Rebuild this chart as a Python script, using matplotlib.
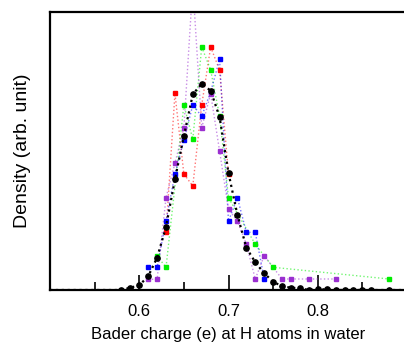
import numpy as np
import matplotlib.pyplot as plt

plt.rcParams['font.family'] = ['Liberation Sans', 'DejaVu Sans']

# Bader charge histograms (arbitrary units)
black_x = [0.50, 0.51, 0.52, 0.53, 0.54, 0.55, 0.56, 0.57, 0.58, 0.59, 0.60,
           0.61, 0.62, 0.63, 0.64, 0.65, 0.66, 0.67, 0.68, 0.69, 0.70, 0.71,
           0.72, 0.73, 0.74, 0.75, 0.76, 0.77, 0.78, 0.79, 0.80, 0.81, 0.82,
           0.83, 0.84, 0.85, 0.86, 0.88, 0.90]
black_y = [0, 0, 0, 0, 0, 0, 0, 0, 0, 2.3, 4.7,
           13.7, 32.3, 63.3, 110.7, 154, 195.7, 206.3, 199.3, 173, 117, 75,
           42.3, 27.7, 16.7, 8.3, 3.7, 2.3, 1.7, 0, 0.7, 0.7, 0,
           0, 0, 0, 0, 0, 0]
black_marked = list(range(8, 38))

red_x = [0.63, 0.64, 0.65, 0.66, 0.67, 0.68, 0.69, 0.70]
red_y = [57.7, 196.7, 116, 104, 185, 243, 220, 116]

green_x = [0.62, 0.63, 0.65, 0.66, 0.67, 0.68, 0.69, 0.70, 0.73, 0.75, 0.88]
green_y = [34, 22.7, 185, 150.7, 243, 220, 174, 92.3, 45.7, 22.7, 11]

blue_x = [0.61, 0.62, 0.63, 0.64, 0.65, 0.66, 0.67, 0.68, 0.69, 0.70, 0.71,
          0.72, 0.73, 0.74]
blue_y = [22.7, 22.7, 69, 116, 150, 185, 173.7, 198, 230.7, 69, 92.3,
          57.7, 57.7, 11]

purple_x = [0.61, 0.62, 0.63, 0.64, 0.65, 0.66, 0.67, 0.68, 0.69, 0.70,
            0.71, 0.72, 0.73, 0.74, 0.76, 0.77, 0.79, 0.82]
purple_y = [10.7, 10.7, 92.3, 126.7, 162.3, 305, 162.3, 196.3, 139, 80.7,
            69, 45.7, 11, 34.3, 11, 11, 11, 11]

fig = plt.figure(figsize=(4.04, 3.47), dpi=100)
ax = fig.add_axes([50/404, 57/347, 357/404, 278/347])

series = [(red_x, red_y, '#ff0000'),
          (green_x, green_y, '#00ee00'),
          (blue_x, blue_y, '#0000ff'),
          (purple_x, purple_y, '#9a2fd0')]
for xs, ys, c in series:
    ax.plot(xs, ys, ls=':', lw=1.0, color=c, alpha=0.55, zorder=2)
    ax.plot(xs, ys, ls='none', marker='s', ms=3.2, color=c, mec=c, zorder=3)

ax.plot(black_x, black_y, ls=':', lw=1.6, color='black', zorder=4)
ax.plot(black_x, black_y, ls='none', marker='o', ms=3.8, color='black',
        markevery=black_marked, zorder=5)

ax.set_xlim(0.5, 0.9)
ax.set_ylim(0, 278)
ax.set_yticks([])
ax.set_xticks([0.6, 0.7, 0.8])
ax.set_xticks([0.55, 0.65, 0.75, 0.85], minor=True)
ax.tick_params(axis='x', which='major', direction='in', length=11, width=1.2,
               labelsize=12, pad=10)
ax.tick_params(axis='x', which='minor', direction='in', length=6, width=1.2)
for s in ax.spines.values():
    s.set_linewidth(1.6)
ax.spines['right'].set_visible(False)

ax.set_xlabel('Bader charge (e) at H atoms in water', fontsize=12, labelpad=6)
ax.set_ylabel('Density (arb. unit)', fontsize=14, labelpad=14)

fig.savefig('out.png', dpi=100)
